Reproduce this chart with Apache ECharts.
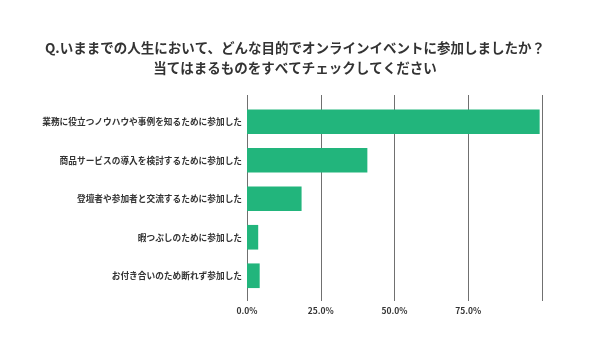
<!DOCTYPE html>
<html><head><meta charset="utf-8">
<script src="https://cdn.jsdelivr.net/npm/echarts@6/dist/echarts.min.js"></script>
<style>html,body{margin:0;padding:0;background:#fff}#c{width:590px;height:346px}</style>
</head><body><div id="c"></div>
<script>
const titleLines = ['Q.いままでの人生において、どんな目的でオンラインイベントに参加しましたか？', '当てはまるものをすべてチェックしてください'];
const categories = ['業務に役立つノウハウや事例を知るために参加した', '商品サービスの導入を検討するために参加した', '登壇者や参加者と交流するために参加した', '暇つぶしのために参加した', 'お付き合いのため断れず参加した'];
const values = [99.2, 40.8, 18.5, 3.8, 4.3];
const axisMin = 0, axisMax = 100, axisInterval = 25;

const font = '"Noto Sans CJK JP", "Noto Sans", sans-serif';
const chart = echarts.init(document.getElementById('c'));
chart.setOption({
  animation: false,
  title: {
    text: titleLines.join('\n'), left: 'center', top: 33,
    textStyle: { fontFamily: font, fontSize: 13.5, fontWeight: 'bold', color: '#333', lineHeight: 20 }
  },
  grid: [
    { left: 247, right: 48, top: 102.5, bottom: 51 },
    { left: 247, right: 48, top: 95, bottom: 45 }
  ],
  xAxis: [
    { gridIndex: 0, type: 'value', min: axisMin, max: axisMax, interval: axisInterval,
      axisLabel: { show: false }, splitLine: { show: false }, axisLine: { show: false }, axisTick: { show: false } },
    { gridIndex: 1, type: 'value', min: axisMin, max: axisMax, interval: axisInterval,
      axisLabel: { showMaxLabel: false, formatter: v => v.toFixed(1) + '%', fontFamily: font, fontSize: 8.5, fontWeight: 'bold', color: '#333', margin: 6 },
      splitLine: { show: true, lineStyle: { color: '#707070', width: 1 } },
      axisLine: { show: false }, axisTick: { show: false } }
  ],
  yAxis: [
    { gridIndex: 0, type: 'category', data: categories, inverse: true,
      axisLine: { show: false }, axisTick: { show: false },
      axisLabel: { fontFamily: font, fontSize: 8.7, fontWeight: 'bold', color: '#333', margin: 5 } },
    { gridIndex: 1, type: 'value', show: false }
  ],
  series: [{
    type: 'bar', xAxisIndex: 0, yAxisIndex: 0, data: values, barWidth: '64%',
    itemStyle: { color: '#22b57c' }
  }]
});
</script></body></html>
